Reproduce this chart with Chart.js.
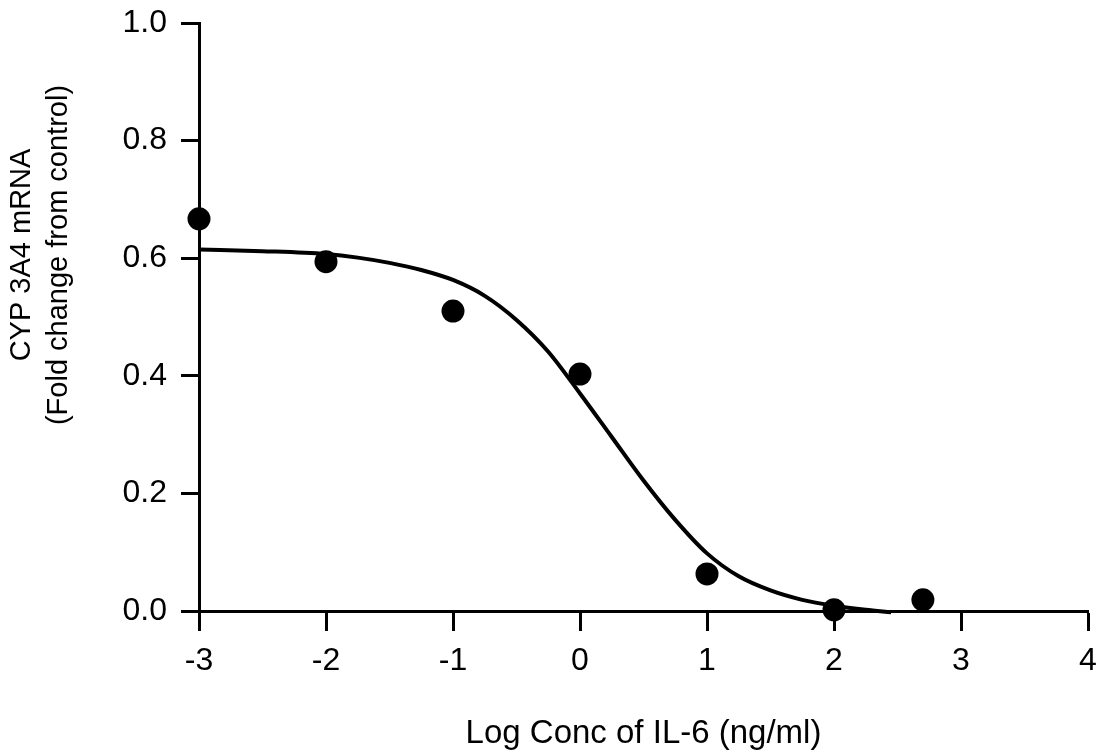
<!DOCTYPE html>
<html>
<head>
<meta charset="utf-8">
<script src="https://cdn.jsdelivr.net/npm/chart.js@4"></script>
<style>
  html, body { margin: 0; padding: 0; background: #fff; }
  #c { display: block; }
</style>
</head>
<body>
<canvas id="c" width="1100" height="752"></canvas>
<script>
// ---- data ----
const pointX = [-3, -2, -1, 0, 1, 2, 2.7];
const pointY = [0.667, 0.594, 0.510, 0.403, 0.063, 0.002, 0.019];

const curveX = [-3, -2.5, -2, -1.75, -1.5, -1.25, -1, -0.75, -0.5, -0.25, 0, 0.25, 0.5, 0.75, 1, 1.25, 1.5, 1.75, 2, 2.25, 2.45];
const curveY = [0.615, 0.612, 0.607, 0.601, 0.592, 0.580, 0.563, 0.536, 0.495, 0.441, 0.370, 0.296, 0.222, 0.155, 0.098, 0.059, 0.035, 0.019, 0.009, 0.002, -0.002];

const xTickValues = [-3, -2, -1, 0, 1, 2, 3, 4];
const yTickValues = [0.0, 0.2, 0.4, 0.6, 0.8, 1.0];

const xTitle = 'Log Conc of IL-6 (ng/ml)';
const yTitleLines = ['CYP 3A4 mRNA', '(Fold change from control)'];

// ---- build ----
const FONT = '"Liberation Sans", Arial, Helvetica, sans-serif';

const yTitlePlugin = {
  id: 'yTitle',
  afterDraw(chart) {
    const ctx = chart.ctx;
    ctx.save();
    ctx.fillStyle = '#000';
    ctx.font = '29px ' + FONT;
    ctx.textAlign = 'center';
    ctx.textBaseline = 'alphabetic';
    const cy = 255;
    const baselines = [30, 67];
    yTitleLines.forEach((t, i) => {
      ctx.save();
      ctx.translate(baselines[i], cy);
      ctx.rotate(-Math.PI / 2);
      ctx.fillText(t, 0, 0);
      ctx.restore();
    });
    ctx.restore();
  }
};

new Chart(document.getElementById('c'), {
  type: 'scatter',
  data: {
    datasets: [
      {
        label: 'fit',
        data: curveX.map((x, i) => ({ x: x, y: curveY[i] })),
        showLine: true,
        borderColor: '#000',
        borderWidth: 4,
        pointRadius: 0,
        cubicInterpolationMode: 'monotone',
        fill: false,
        clip: false,
        order: 2
      },
      {
        label: 'data',
        data: pointX.map((x, i) => ({ x: x, y: pointY[i] })),
        backgroundColor: '#000',
        borderColor: '#000',
        borderWidth: 0,
        pointRadius: 11.5,
        showLine: false,
        clip: false,
        order: 1
      }
    ]
  },
  options: {
    responsive: false,
    animation: false,
    events: [],
    layout: { padding: { left: 0, right: 12, top: 23, bottom: 0 } },
    plugins: {
      legend: { display: false },
      tooltip: { enabled: false }
    },
    scales: {
      x: {
        type: 'linear',
        position: 'bottom',
        min: xTickValues[0],
        max: xTickValues[xTickValues.length - 1],
        afterBuildTicks(scale) { scale.ticks = xTickValues.map(v => ({ value: v })); },
        afterFit(scale) { scale.height = 141; scale.paddingLeft = 0; scale.paddingRight = 0; },
        border: { display: true, color: '#000', width: 3 },
        grid: { drawOnChartArea: false, drawTicks: true, tickLength: 20, tickColor: '#000', tickWidth: 3 },
        ticks: {
          color: '#000',
          font: { family: FONT, size: 32 },
          padding: 11,
          maxRotation: 0,
          autoSkip: false,
          callback: v => String(v)
        },
        title: {
          display: true,
          text: xTitle,
          color: '#000',
          font: { family: FONT, size: 33 },
          padding: { top: 0, bottom: -2 }
        }
      },
      y: {
        type: 'linear',
        position: 'left',
        min: yTickValues[0],
        max: yTickValues[yTickValues.length - 1],
        afterBuildTicks(scale) { scale.ticks = yTickValues.map(v => ({ value: v })); },
        afterFit(scale) { scale.width = 199; scale.paddingTop = 0; scale.paddingBottom = 0; },
        border: { display: true, color: '#000', width: 3 },
        grid: { drawOnChartArea: false, drawTicks: true, tickLength: 18, tickColor: '#000', tickWidth: 3 },
        ticks: {
          color: '#000',
          font: { family: FONT, size: 32 },
          padding: 14,
          autoSkip: false,
          callback: v => Number(v).toFixed(1)
        }
      }
    }
  },
  plugins: [yTitlePlugin]
});
</script>
</body>
</html>
